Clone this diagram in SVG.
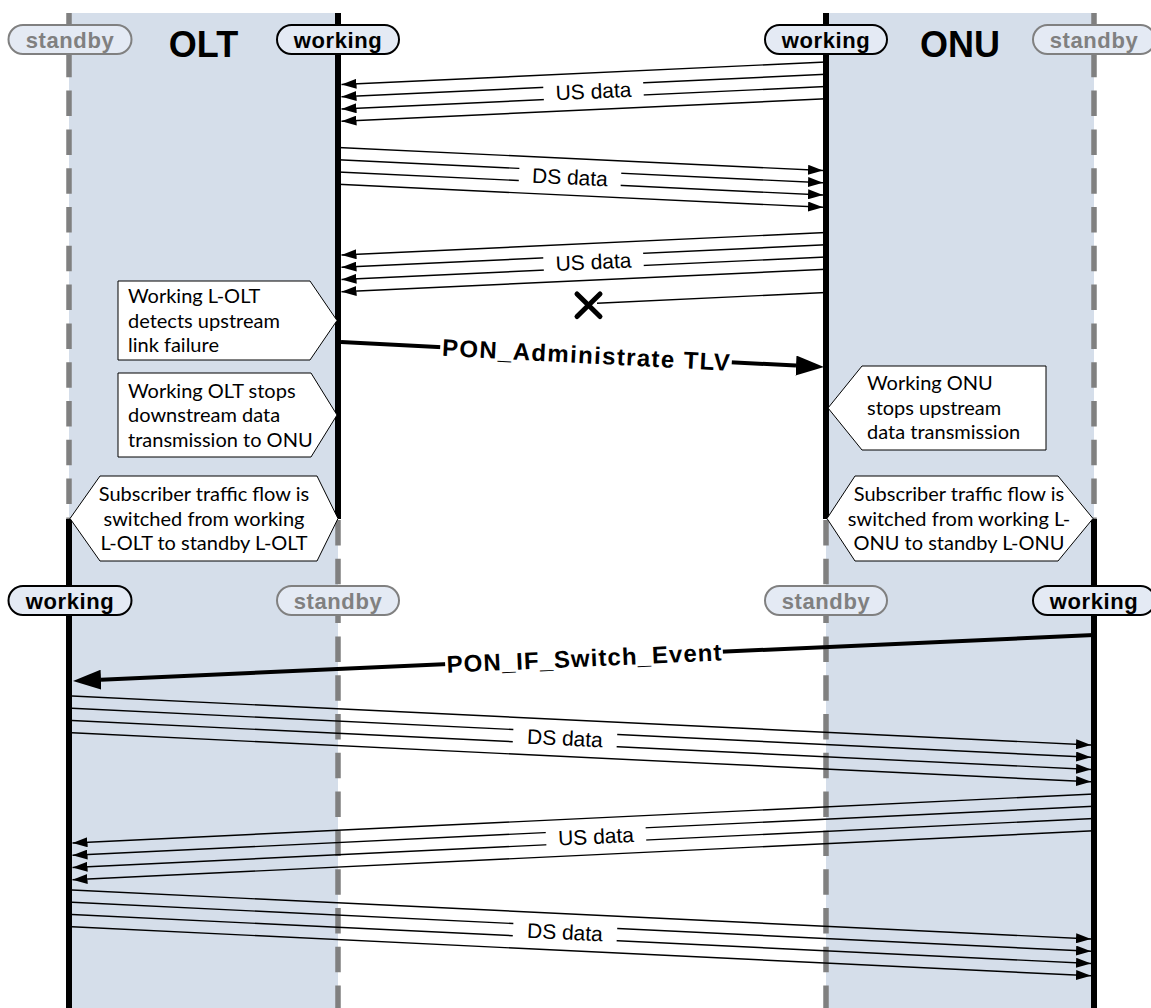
<svg xmlns="http://www.w3.org/2000/svg" width="1151" height="1008" viewBox="0 0 1151 1008">
<defs>
<style>
.panel{fill:#D5DEEA}
.life-w{stroke:#000;stroke-width:6}
.life-s{stroke:#808080;stroke-width:5.5;stroke-dasharray:25.5 13.3}
.pill rect{fill:#E4EAF4;stroke-width:2}
.pill text{font-family:"Liberation Sans",Arial,sans-serif;font-weight:bold;font-size:22px;text-anchor:middle;letter-spacing:0.6px}
.pw rect{stroke:#000}
.pw text{fill:#000}
.ps rect{stroke:#808080}
.ps text{fill:#808080}
.title{font-family:"Liberation Sans",Arial,sans-serif;font-weight:bold;font-size:36px;text-anchor:middle;fill:#000}
.note polygon{fill:#fff;stroke:#000;stroke-width:1}
.note text{font-family:Lato,"Noto Sans",sans-serif;font-size:20px;fill:#000}
.note text.c{text-anchor:middle}
.msg{stroke:#000;stroke-width:1.4;fill:none;marker-end:url(#ah)}
.msgx{stroke:#000;stroke-width:1.4;fill:none}
.msgb{stroke:#000;stroke-width:4;fill:none;marker-end:url(#ahb)}
.lbl{font-family:"Liberation Sans",Arial,sans-serif;font-size:21px;text-anchor:middle;fill:#000}
.lblb{font-family:"Liberation Sans",Arial,sans-serif;font-size:24px;font-weight:bold;text-anchor:middle;fill:#000}
.bg{fill:#fff}
.xm{stroke:#000;stroke-width:5;stroke-linecap:round}
</style>
<marker id="ah" markerUnits="userSpaceOnUse" markerWidth="15" markerHeight="10" viewBox="0 0 15 10" refX="15" refY="5" orient="auto"><path d="M0,0 L15,5 L0,10 z" fill="#000"/></marker>
<marker id="ahb" markerUnits="userSpaceOnUse" markerWidth="28" markerHeight="20" viewBox="0 0 28 20" refX="0" refY="10" orient="auto"><path d="M0,0 L28,10 L0,20 z" fill="#000"/></marker>
</defs>

<g id="panels">
<rect class="panel" x="69" y="13" width="269" height="995"/>
<rect class="panel" x="826" y="13" width="268" height="995"/>
</g>

<g id="lifelines">
<line class="life-s" x1="69" y1="13" x2="69" y2="519"/>
<line class="life-w" x1="69" y1="519" x2="69" y2="1008"/>
<line class="life-w" x1="338" y1="13" x2="338" y2="519"/>
<line class="life-s" x1="338" y1="520" x2="338" y2="1008"/>
<line class="life-w" x1="826" y1="13" x2="826" y2="519"/>
<line class="life-s" x1="826" y1="520" x2="826" y2="1008"/>
<line class="life-s" x1="1094" y1="13" x2="1094" y2="519"/>
<line class="life-w" x1="1094" y1="519" x2="1094" y2="1008"/>
</g>

<g id="title-olt"><text class="title" x="203.5" y="57">OLT</text></g>
<g id="title-onu"><text class="title" x="960" y="57">ONU</text></g>

<g id="pill-olt-standby-top" class="pill ps"><rect x="8.5" y="25" width="123" height="29" rx="14.5"/><text x="70" y="47.5">standby</text></g>
<g id="pill-olt-working-top" class="pill pw"><rect x="277" y="25" width="122" height="29" rx="14.5"/><text x="338" y="47.5">working</text></g>
<g id="pill-onu-working-top" class="pill pw"><rect x="765" y="25" width="122" height="29" rx="14.5"/><text x="826" y="47.5">working</text></g>
<g id="pill-onu-standby-top" class="pill ps"><rect x="1033" y="25" width="122" height="29" rx="14.5"/><text x="1094" y="47.5">standby</text></g>

<g id="pill-olt-working-bottom" class="pill pw"><rect x="8.5" y="586" width="123" height="29" rx="14.5"/><text x="70" y="608.5">working</text></g>
<g id="pill-olt-standby-bottom" class="pill ps"><rect x="277" y="586" width="122" height="29" rx="14.5"/><text x="338" y="608.5">standby</text></g>
<g id="pill-onu-standby-bottom" class="pill ps"><rect x="765" y="586" width="122" height="29" rx="14.5"/><text x="826" y="608.5">standby</text></g>
<g id="pill-onu-working-bottom" class="pill pw"><rect x="1033" y="586" width="122" height="29" rx="14.5"/><text x="1094" y="608.5">working</text></g>

<g id="note-olt-detect" class="note">
<polygon points="118,281 310,281 337,320.5 310,360 118,360"/>
<text x="128" y="303">Working L-OLT</text>
<text x="128" y="327.5">detects upstream</text>
<text x="128" y="352">link failure</text>
</g>
<g id="note-olt-stop" class="note">
<polygon points="118,373 311,373 337,415 311,457 118,457"/>
<text x="128" y="397.5">Working OLT stops</text>
<text x="128" y="422">downstream data</text>
<text x="128" y="446.5">transmission to ONU</text>
</g>
<g id="note-onu-stop" class="note">
<polygon points="862,366 1046,366 1046,450 862,450 828,408"/>
<text x="867" y="390">Working ONU</text>
<text x="867" y="414.5">stops upstream</text>
<text x="867" y="439">data transmission</text>
</g>
<g id="note-olt-switch" class="note">
<polygon points="70,518.5 100,476 317,476 338,518.5 317,561 100,561"/>
<text class="c" x="204" y="501">Subscriber traffic flow is</text>
<text class="c" x="204" y="525.5">switched from working</text>
<text class="c" x="204" y="550">L-OLT to standby L-OLT</text>
</g>
<g id="note-onu-switch" class="note">
<polygon points="827,518.5 855,476 1058,476 1093,518.5 1058,561 855,561"/>
<text class="c" x="959" y="501">Subscriber traffic flow is</text>
<text class="c" x="959" y="525.5">switched from working L-</text>
<text class="c" x="959" y="550">ONU to standby L-ONU</text>
</g>

<g id="connectors">
<line class="msg" x1="826" y1="62" x2="341.5" y2="84.5"/>
<line class="msg" x1="826" y1="74.3" x2="341.5" y2="96.8"/>
<line class="msg" x1="826" y1="86.5" x2="341.5" y2="109"/>
<line class="msg" x1="826" y1="98.8" x2="341.5" y2="121.3"/>
<g transform="rotate(-2.66 593.5 91)"><rect class="bg" x="543.5" y="79" width="100" height="24"/><text class="lbl" x="593.5" y="98.5">US data</text></g>
<line class="msg" x1="338" y1="147.5" x2="823" y2="170.5"/>
<line class="msg" x1="338" y1="159.8" x2="823" y2="182.8"/>
<line class="msg" x1="338" y1="172" x2="823" y2="195"/>
<line class="msg" x1="338" y1="184.3" x2="823" y2="207.3"/>
<g transform="rotate(2.72 570 177)"><rect class="bg" x="519" y="165" width="102" height="24"/><text class="lbl" x="570" y="184.5">DS data</text></g>
<line class="msg" x1="826" y1="232.5" x2="341.5" y2="255"/>
<line class="msg" x1="826" y1="244.8" x2="341.5" y2="267.3"/>
<line class="msg" x1="826" y1="257" x2="341.5" y2="279.5"/>
<line class="msg" x1="826" y1="269.3" x2="341.5" y2="291.8"/>
<g transform="rotate(-2.66 593.5 261.7)"><rect class="bg" x="543.5" y="249.7" width="100" height="24"/><text class="lbl" x="593.5" y="269.2">US data</text></g>
<line class="msgx" x1="826" y1="292.5" x2="597" y2="303.2"/>
<line class="xm" x1="577" y1="294" x2="600" y2="316.5"/>
<line class="xm" x1="600" y1="294" x2="577" y2="316.5"/>
<line class="msgb" x1="341" y1="342" x2="796" y2="365.55"/>
<g transform="rotate(2.96 586 354.7)"><rect class="bg" x="440" y="342.7" width="292" height="24"/><text class="lblb" x="586" y="363.3" textLength="288" lengthAdjust="spacing">PON_Administrate TLV</text></g>
<line class="msgb" x1="1094" y1="635" x2="101" y2="679.74"/>
<g transform="rotate(-2.58 584 658)"><rect class="bg" x="445" y="646" width="278" height="24"/><text class="lblb" x="584" y="666.6" textLength="275" lengthAdjust="spacing">PON_IF_Switch_Event</text></g>
<line class="msg" x1="72" y1="696" x2="1091" y2="745"/>
<line class="msg" x1="72" y1="708.3" x2="1091" y2="757.3"/>
<line class="msg" x1="72" y1="720.5" x2="1091" y2="769.5"/>
<line class="msg" x1="72" y1="732.8" x2="1091" y2="781.8"/>
<g transform="rotate(2.75 565 738)"><rect class="bg" x="513" y="726" width="104" height="24"/><text class="lbl" x="565" y="745.5">DS data</text></g>
<line class="msg" x1="1094" y1="794" x2="72.5" y2="843"/>
<line class="msg" x1="1094" y1="806.3" x2="72.5" y2="855.3"/>
<line class="msg" x1="1094" y1="818.5" x2="72.5" y2="867.5"/>
<line class="msg" x1="1094" y1="830.8" x2="72.5" y2="879.8"/>
<g transform="rotate(-2.75 596 836.3)"><rect class="bg" x="546" y="824.3" width="100" height="24"/><text class="lbl" x="596" y="843.8">US data</text></g>
<line class="msg" x1="72" y1="890" x2="1091" y2="939"/>
<line class="msg" x1="72" y1="902.3" x2="1091" y2="951.3"/>
<line class="msg" x1="72" y1="914.5" x2="1091" y2="963.5"/>
<line class="msg" x1="72" y1="926.8" x2="1091" y2="975.8"/>
<g transform="rotate(2.75 565 932)"><rect class="bg" x="513" y="920" width="104" height="24"/><text class="lbl" x="565" y="939.5">DS data</text></g>
</g>
</svg>
